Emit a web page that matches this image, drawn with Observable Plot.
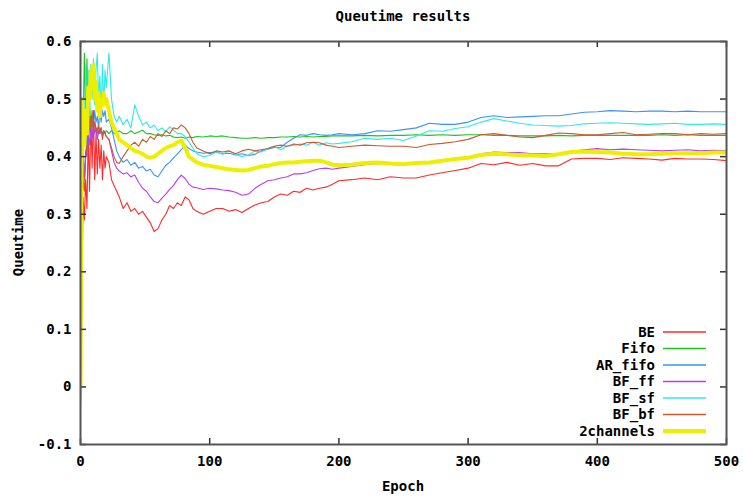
<!DOCTYPE html>
<html><head><meta charset="utf-8">
<script src="https://cdn.jsdelivr.net/npm/d3@7"></script>
<script src="https://cdn.jsdelivr.net/npm/@observablehq/plot@0.6"></script>
<style>body{margin:0;background:#fff}</style>
</head><body><div id="chart"></div>
<script>
const epochs = [
  0,1,2,3,4,5,6,7,8,9,10,11,12,13,14,15,16,17,18,19,20,
  22,24,26,28,30,
  33,36,39,42,45,48,51,54,57,60,63,66,69,72,75,78,81,84,87,90,
  95,100,105,110,115,120,125,130,135,140,145,150,155,160,165,170,175,180,185,190,195,200,
  210,220,230,240,250,260,270,280,290,300,310,320,330,340,350,360,370,380,390,400,410,420,430,440,450,460,470,480,490,500
];
const BE = [
  -0.04,0.13,0.33,0.29,0.36,0.31,0.44,0.34,0.47,0.38,0.48,0.36,0.44,0.37,0.43,0.38,0.42,0.36,0.41,0.38,0.40,
  0.39,0.36,0.35,0.34,0.33,
  0.31,0.32,0.305,0.31,0.30,0.305,0.295,0.285,0.27,0.275,0.29,0.30,0.315,0.31,0.32,0.315,0.33,0.325,0.31,0.305,
  0.30,0.305,0.31,0.31,0.305,0.308,0.303,0.31,0.316,0.32,0.322,0.33,0.335,0.333,0.34,0.338,0.345,0.342,0.345,0.347,0.352,0.358,
  0.36,0.363,0.36,0.365,0.363,0.363,0.368,0.372,0.376,0.38,0.388,0.386,0.39,0.385,0.388,0.384,0.384,0.396,0.397,0.397,0.395,0.398,0.397,0.396,0.394,0.397,0.396,0.396,0.395,0.393
];
const Fifo = [
  0.0,0.22,0.45,0.58,0.47,0.57,0.46,0.50,0.44,0.47,0.45,0.46,0.445,0.45,0.44,0.45,0.445,0.44,0.445,0.44,0.445,
  0.44,0.445,0.44,0.44,0.445,
  0.44,0.44,0.445,0.44,0.443,0.446,0.44,0.44,0.438,0.437,0.438,0.436,0.437,0.434,0.433,0.434,0.432,0.434,0.433,0.435,
  0.434,0.436,0.435,0.436,0.434,0.433,0.432,0.432,0.433,0.432,0.433,0.433,0.434,0.434,0.435,0.434,0.435,0.434,0.435,0.435,0.436,0.436,
  0.436,0.437,0.436,0.437,0.437,0.438,0.437,0.438,0.437,0.438,0.438,0.437,0.437,0.436,0.436,0.436,0.437,0.436,0.437,0.437,0.437,0.437,0.437,0.437,0.438,0.437,0.438,0.437,0.437,0.437
];
const AR_fifo = [
  0.0,0.36,0.40,0.37,0.40,0.44,0.42,0.46,0.43,0.47,0.45,0.48,0.46,0.47,0.45,0.48,0.46,0.48,0.47,0.48,0.46,
  0.465,0.45,0.43,0.41,0.40,
  0.39,0.395,0.385,0.39,0.38,0.383,0.375,0.378,0.368,0.365,0.375,0.385,0.39,0.398,0.405,0.412,0.42,0.414,0.41,0.408,
  0.406,0.407,0.408,0.405,0.406,0.403,0.405,0.402,0.404,0.41,0.413,0.416,0.416,0.425,0.432,0.438,0.437,0.44,0.438,0.437,0.438,0.44,
  0.438,0.44,0.445,0.444,0.447,0.45,0.458,0.456,0.456,0.46,0.468,0.471,0.468,0.469,0.47,0.471,0.471,0.474,0.477,0.478,0.48,0.479,0.478,0.479,0.479,0.478,0.479,0.478,0.478,0.478
];
const BF_ff = [
  0.0,0.30,0.38,0.36,0.41,0.40,0.44,0.42,0.45,0.43,0.46,0.44,0.45,0.43,0.445,0.44,0.45,0.435,0.445,0.44,0.435,
  0.43,0.41,0.39,0.38,0.375,
  0.37,0.372,0.365,0.368,0.355,0.345,0.34,0.33,0.322,0.32,0.328,0.335,0.343,0.35,0.36,0.368,0.362,0.352,0.347,0.346,
  0.343,0.345,0.344,0.342,0.341,0.338,0.333,0.335,0.345,0.352,0.358,0.36,0.363,0.365,0.37,0.37,0.372,0.376,0.379,0.38,0.378,0.38,
  0.383,0.386,0.388,0.387,0.386,0.388,0.39,0.392,0.395,0.399,0.405,0.408,0.407,0.407,0.405,0.405,0.405,0.409,0.412,0.414,0.412,0.413,0.412,0.411,0.41,0.411,0.412,0.41,0.411,0.41
];
const BF_sf = [
  0.0,0.40,0.50,0.44,0.56,0.47,0.55,0.48,0.56,0.50,0.57,0.49,0.55,0.58,0.50,0.54,0.48,0.56,0.49,0.55,0.52,
  0.58,0.50,0.47,0.46,0.47,
  0.455,0.465,0.45,0.49,0.47,0.455,0.46,0.45,0.455,0.445,0.45,0.443,0.452,0.446,0.44,0.44,0.435,0.425,0.415,0.405,
  0.40,0.402,0.408,0.404,0.41,0.404,0.40,0.403,0.41,0.408,0.414,0.418,0.412,0.418,0.42,0.422,0.42,0.425,0.42,0.424,0.422,0.423,
  0.426,0.432,0.43,0.432,0.428,0.436,0.445,0.444,0.449,0.452,0.46,0.466,0.462,0.458,0.455,0.454,0.453,0.454,0.457,0.458,0.459,0.458,0.457,0.456,0.457,0.458,0.456,0.456,0.457,0.456
];
const BF_bf = [
  0.0,0.30,0.36,0.34,0.40,0.42,0.44,0.47,0.45,0.48,0.44,0.46,0.45,0.44,0.455,0.44,0.45,0.43,0.445,0.44,0.435,
  0.43,0.415,0.40,0.39,0.388,
  0.40,0.41,0.42,0.425,0.418,0.43,0.425,0.435,0.43,0.44,0.435,0.445,0.44,0.45,0.448,0.455,0.45,0.44,0.425,0.415,
  0.41,0.405,0.41,0.408,0.41,0.405,0.41,0.413,0.41,0.412,0.414,0.418,0.42,0.418,0.422,0.42,0.424,0.425,0.424,0.42,0.418,0.416,
  0.418,0.42,0.419,0.418,0.418,0.416,0.421,0.423,0.426,0.43,0.438,0.44,0.437,0.434,0.433,0.437,0.441,0.44,0.438,0.438,0.44,0.442,0.438,0.439,0.44,0.44,0.438,0.44,0.439,0.44
];
const twoChannels = [
  0.0,0.50,0.45,0.42,0.48,0.44,0.52,0.50,0.55,0.52,0.56,0.50,0.53,0.48,0.51,0.47,0.50,0.49,0.51,0.49,0.50,
  0.48,0.46,0.45,0.44,0.43,
  0.425,0.42,0.415,0.41,0.408,0.405,0.40,0.398,0.40,0.405,0.41,0.415,0.418,0.42,0.425,0.428,0.415,0.40,0.395,0.39,
  0.386,0.384,0.382,0.38,0.378,0.377,0.376,0.377,0.38,0.383,0.384,0.387,0.389,0.39,0.39,0.391,0.392,0.393,0.393,0.39,0.386,0.385,
  0.386,0.389,0.39,0.388,0.387,0.389,0.39,0.393,0.396,0.398,0.403,0.405,0.404,0.403,0.402,0.401,0.404,0.408,0.409,0.408,0.407,0.405,0.404,0.404,0.405,0.406,0.406,0.406,0.407,0.407
];
const seriesNames = ["BE","Fifo","AR_fifo","BF_ff","BF_sf","BF_bf","2channels"];
const seriesValues = [BE, Fifo, AR_fifo, BF_ff, BF_sf, BF_bf, twoChannels];
const seriesColors = ["#ff2a2a","#1ec41e","#3a94f5","#b73cf5","#2eeaea","#cc5a2a","#eeee00"];
const xTicks = [0,100,200,300,400,500];
const yTicks = [-0.1,0,0.1,0.2,0.3,0.4,0.5,0.6];

const data = [];
seriesNames.forEach((name, s) => epochs.forEach((e, i) => data.push({series: name, epoch: e, value: seriesValues[s][i]})));
const thin = data.filter(d => d.series !== "2channels");
const thick = data.filter(d => d.series === "2channels");

const W = 743, H = 497, mL = 80, mR = 17, mT = 41, mB = 53;
const pw = W - mL - mR, ph = H - mT - mB;
const axisColor = "#333";

const chart = Plot.plot({
  width: W, height: H,
  marginLeft: mL, marginRight: mR, marginTop: mT, marginBottom: mB,
  style: "font-family: 'DejaVu Sans Mono', monospace; font-size: 14px; font-weight: bold; background: white; color: black;",
  x: {domain: [0, 500], ticks: xTicks, tickSize: 0, tickPadding: 12, label: null, tickFormat: d => String(d)},
  y: {domain: [-0.1, 0.6], ticks: yTicks, tickSize: 0, tickPadding: 9, label: null,
      tickFormat: d => Math.abs(d) < 1e-9 ? "0" : d.toFixed(1)},
  color: {domain: seriesNames, range: seriesColors},
  marks: [
    Plot.line(thin, {x: "epoch", y: "value", z: "series", stroke: "series", strokeWidth: 1.1, clip: true}),
    Plot.line(thick, {x: "epoch", y: "value", stroke: "series", strokeWidth: 4, clip: true}),
    Plot.tickY(yTicks, {y: d => d, insetRight: pw - 6, stroke: axisColor, strokeWidth: 1.5}),
    Plot.tickY(yTicks, {y: d => d, insetLeft: pw - 6, stroke: axisColor, strokeWidth: 1.5}),
    Plot.tickX(xTicks, {x: d => d, insetTop: ph - 6, stroke: axisColor, strokeWidth: 1.5}),
    Plot.tickX(xTicks, {x: d => d, insetBottom: ph - 6, stroke: axisColor, strokeWidth: 1.5}),
    Plot.frame({stroke: "#555", strokeWidth: 2})
  ]
});
document.getElementById("chart").appendChild(chart);

const svg = d3.select(chart);
const font = "'DejaVu Sans Mono', monospace";
svg.append("text").attr("x", mL + pw / 2).attr("y", 16).attr("dy", "0.35em")
  .attr("text-anchor", "middle").attr("font-family", font).attr("font-size", 14).attr("font-weight", "bold")
  .attr("fill", "black").text("Queutime results");
svg.append("text").attr("x", mL + pw / 2).attr("y", 486).attr("dy", "0.35em")
  .attr("text-anchor", "middle").attr("font-family", font).attr("font-size", 14).attr("font-weight", "bold")
  .attr("fill", "black").text("Epoch");
svg.append("text").attr("transform", `translate(18,${mT + ph / 2}) rotate(-90)`).attr("dy", "0.35em")
  .attr("text-anchor", "middle").attr("font-family", font).attr("font-size", 14).attr("font-weight", "bold")
  .attr("fill", "black").text("Queutime");

const leg = svg.append("g");
seriesNames.forEach((n, i) => {
  const y = 332 + i * 16.5;
  leg.append("text").attr("x", 655).attr("y", y).attr("dy", "0.35em").attr("text-anchor", "end")
    .attr("font-family", font).attr("font-size", 14).attr("font-weight", "bold").attr("fill", "black").text(n);
  leg.append("line").attr("x1", 663).attr("x2", 706).attr("y1", y).attr("y2", y)
    .attr("stroke", seriesColors[i]).attr("stroke-width", n === "2channels" ? 4 : 1.5);
});
</script>
</body></html>
